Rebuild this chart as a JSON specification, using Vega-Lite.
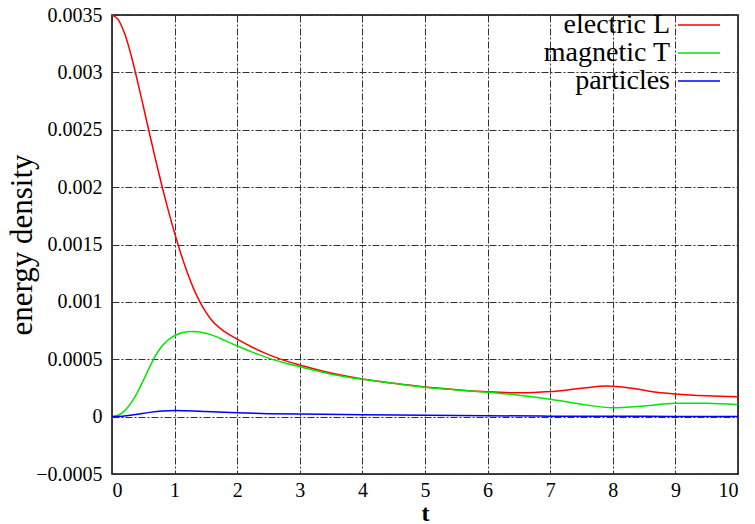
{
  "$schema": "https://vega.github.io/schema/vega-lite/v6.json",
  "width": 626,
  "height": 459,
  "autosize": {"type": "none"},
  "padding": {"left": 112, "top": 15, "right": 17, "bottom": 50},
  "background": "white",
  "config": {
    "font": "Liberation Serif",
    "view": {"stroke": "black", "strokeWidth": 1.5},
    "axis": {
      "labelFont": "Liberation Serif",
      "labelFontSize": 20,
      "labelColor": "black",
      "titleFont": "Liberation Serif",
      "titleColor": "black",
      "domain": false,
      "ticks": false,
      "grid": true,
      "gridColor": "#333333",
      "gridDash": [7, 2, 2, 2],
      "gridWidth": 1,
      "gridOpacity": 1
    },
    "legend": {"labelFont": "Liberation Serif"}
  },
  "data": {
    "values": [
      {"t": 0, "v": 0.0035, "s": "electric L"},
      {"t": 0.1, "v": 0.00346, "s": "electric L"},
      {"t": 0.2, "v": 0.00334, "s": "electric L"},
      {"t": 0.3, "v": 0.00316, "s": "electric L"},
      {"t": 0.4, "v": 0.00294, "s": "electric L"},
      {"t": 0.5, "v": 0.002705, "s": "electric L"},
      {"t": 0.6, "v": 0.002465, "s": "electric L"},
      {"t": 0.7, "v": 0.00223, "s": "electric L"},
      {"t": 0.8, "v": 0.002005, "s": "electric L"},
      {"t": 0.9, "v": 0.001795, "s": "electric L"},
      {"t": 1.0, "v": 0.0016, "s": "electric L"},
      {"t": 1.1, "v": 0.00142, "s": "electric L"},
      {"t": 1.2, "v": 0.00126, "s": "electric L"},
      {"t": 1.3, "v": 0.00112, "s": "electric L"},
      {"t": 1.4, "v": 0.001005, "s": "electric L"},
      {"t": 1.5, "v": 0.00091, "s": "electric L"},
      {"t": 1.6, "v": 0.000835, "s": "electric L"},
      {"t": 1.8, "v": 0.00074, "s": "electric L"},
      {"t": 2.0, "v": 0.000675, "s": "electric L"},
      {"t": 2.25, "v": 0.000602, "s": "electric L"},
      {"t": 2.5, "v": 0.00054, "s": "electric L"},
      {"t": 2.75, "v": 0.00049, "s": "electric L"},
      {"t": 3.0, "v": 0.00045, "s": "electric L"},
      {"t": 3.5, "v": 0.00038, "s": "electric L"},
      {"t": 4.0, "v": 0.000328, "s": "electric L"},
      {"t": 4.5, "v": 0.00029, "s": "electric L"},
      {"t": 5.0, "v": 0.000258, "s": "electric L"},
      {"t": 5.5, "v": 0.000235, "s": "electric L"},
      {"t": 6.0, "v": 0.000216, "s": "electric L"},
      {"t": 6.5, "v": 0.000207, "s": "electric L"},
      {"t": 7.0, "v": 0.000218, "s": "electric L"},
      {"t": 7.5, "v": 0.000247, "s": "electric L"},
      {"t": 7.9, "v": 0.000267, "s": "electric L"},
      {"t": 8.3, "v": 0.000248, "s": "electric L"},
      {"t": 8.7, "v": 0.000213, "s": "electric L"},
      {"t": 9.0, "v": 0.000197, "s": "electric L"},
      {"t": 9.5, "v": 0.000181, "s": "electric L"},
      {"t": 10.0, "v": 0.000174, "s": "electric L"},
      {"t": 0, "v": 0, "s": "magnetic T"},
      {"t": 0.1, "v": 0.000012, "s": "magnetic T"},
      {"t": 0.2, "v": 0.00005, "s": "magnetic T"},
      {"t": 0.3, "v": 0.000115, "s": "magnetic T"},
      {"t": 0.4, "v": 0.000205, "s": "magnetic T"},
      {"t": 0.5, "v": 0.000315, "s": "magnetic T"},
      {"t": 0.6, "v": 0.00043, "s": "magnetic T"},
      {"t": 0.7, "v": 0.000535, "s": "magnetic T"},
      {"t": 0.8, "v": 0.000615, "s": "magnetic T"},
      {"t": 0.9, "v": 0.00067, "s": "magnetic T"},
      {"t": 1.0, "v": 0.000705, "s": "magnetic T"},
      {"t": 1.1, "v": 0.000728, "s": "magnetic T"},
      {"t": 1.2, "v": 0.00074, "s": "magnetic T"},
      {"t": 1.3, "v": 0.000742, "s": "magnetic T"},
      {"t": 1.4, "v": 0.000737, "s": "magnetic T"},
      {"t": 1.6, "v": 0.00071, "s": "magnetic T"},
      {"t": 1.8, "v": 0.000665, "s": "magnetic T"},
      {"t": 2.0, "v": 0.000615, "s": "magnetic T"},
      {"t": 2.25, "v": 0.00056, "s": "magnetic T"},
      {"t": 2.5, "v": 0.00051, "s": "magnetic T"},
      {"t": 2.75, "v": 0.00047, "s": "magnetic T"},
      {"t": 3.0, "v": 0.000435, "s": "magnetic T"},
      {"t": 3.5, "v": 0.00037, "s": "magnetic T"},
      {"t": 4.0, "v": 0.000325, "s": "magnetic T"},
      {"t": 4.5, "v": 0.00029, "s": "magnetic T"},
      {"t": 5.0, "v": 0.000256, "s": "magnetic T"},
      {"t": 5.5, "v": 0.000233, "s": "magnetic T"},
      {"t": 6.0, "v": 0.000212, "s": "magnetic T"},
      {"t": 6.5, "v": 0.000187, "s": "magnetic T"},
      {"t": 7.0, "v": 0.000152, "s": "magnetic T"},
      {"t": 7.5, "v": 0.000108, "s": "magnetic T"},
      {"t": 8.0, "v": 0.000077, "s": "magnetic T"},
      {"t": 8.5, "v": 0.000093, "s": "magnetic T"},
      {"t": 9.0, "v": 0.000117, "s": "magnetic T"},
      {"t": 9.5, "v": 0.000116, "s": "magnetic T"},
      {"t": 10.0, "v": 0.000103, "s": "magnetic T"},
      {"t": 0, "v": 0, "s": "particles"},
      {"t": 0.2, "v": 0.000005, "s": "particles"},
      {"t": 0.4, "v": 0.00002, "s": "particles"},
      {"t": 0.6, "v": 0.000037, "s": "particles"},
      {"t": 0.8, "v": 0.000049, "s": "particles"},
      {"t": 1.0, "v": 0.000054, "s": "particles"},
      {"t": 1.2, "v": 0.000052, "s": "particles"},
      {"t": 1.5, "v": 0.000045, "s": "particles"},
      {"t": 2.0, "v": 0.000033, "s": "particles"},
      {"t": 2.5, "v": 0.000026, "s": "particles"},
      {"t": 3.0, "v": 0.000022, "s": "particles"},
      {"t": 4.0, "v": 0.000016, "s": "particles"},
      {"t": 5.0, "v": 0.000012, "s": "particles"},
      {"t": 6.0, "v": 0.000008, "s": "particles"},
      {"t": 7.0, "v": 0.000004, "s": "particles"},
      {"t": 8.0, "v": 0.000003, "s": "particles"},
      {"t": 9.0, "v": 0.000002, "s": "particles"},
      {"t": 10.0, "v": 0.000002, "s": "particles"}
    ]
  },
  "mark": {"type": "line", "interpolate": "monotone", "strokeWidth": 1.5},
  "encoding": {
    "x": {
      "field": "t",
      "type": "quantitative",
      "scale": {"domain": [0, 10], "nice": false, "zero": false},
      "axis": {
        "title": "t",
        "values": [0, 1, 2, 3, 4, 5, 6, 7, 8, 9, 10],
        "labelPadding": 6,
        "titleFontSize": 24,
        "titleFontWeight": "bold",
        "titlePadding": 1
      }
    },
    "y": {
      "field": "v",
      "type": "quantitative",
      "scale": {"domain": [-0.0005, 0.0035], "nice": false, "zero": false},
      "axis": {
        "title": "energy density",
        "values": [-0.0005, 0, 0.0005, 0.001, 0.0015, 0.002, 0.0025, 0.003, 0.0035],
        "format": "~f",
        "labelPadding": 10,
        "titleFontSize": 31,
        "titleFontWeight": "normal",
        "titlePadding": -3
      }
    },
    "color": {
      "field": "s",
      "type": "nominal",
      "scale": {"domain": ["electric L", "magnetic T", "particles"], "range": ["#ff0000", "#00e600", "#0000ff"]},
      "legend": {
        "title": null,
        "orient": "none",
        "legendX": 576,
        "legendY": -1,
        "symbolType": "M-3,0H3",
        "symbolSize": 196,
        "symbolStrokeWidth": 1.5,
        "labelAlign": "right",
        "labelOffset": -40,
        "labelFontSize": 22,
        "labelColor": "black",
        "rowPadding": 0,
        "encode": {
          "labels": {"update": {"fontSize": {"value": 22, "offset": 6}}}
        }
      }
    }
  }
}
